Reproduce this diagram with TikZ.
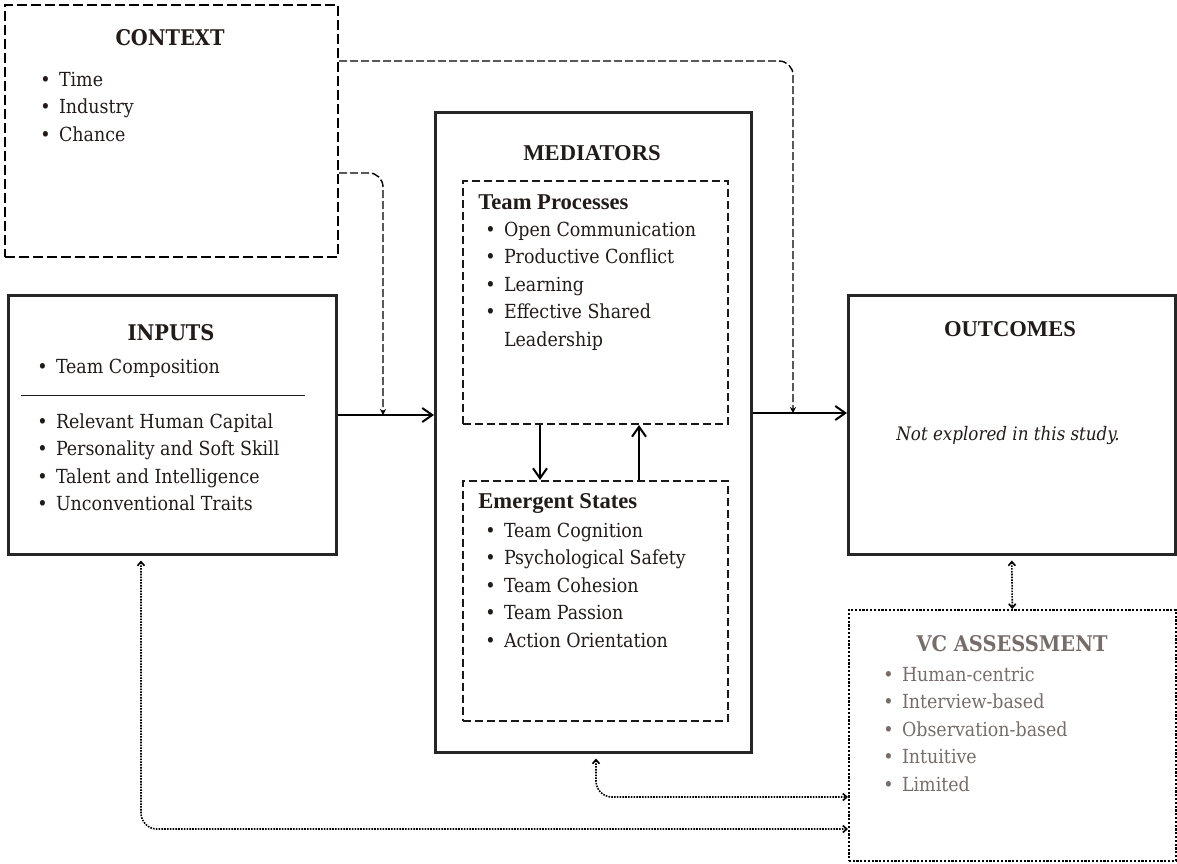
\documentclass[tikz,border=0pt]{standalone}
\usepackage{fontspec}
\setmainfont{DejaVu Serif Condensed}
\newfontfamily\headserif{Liberation Serif}
\usepackage{tikz}
\usetikzlibrary{arrows.meta, positioning}
\definecolor{inkdark}{HTML}{211B19}
\definecolor{vcgrey}{HTML}{756D6A}
\newcommand{\itm}[1]{\makebox[9.3pt][l]{\textbullet}#1}
\newcommand{\blist}[1]{\begin{tabular}[t]{@{}l@{}}#1\end{tabular}}
\tikzstyle{solidbox} = [rectangle, draw=black!85, line width=1.25pt, anchor=north west, inner sep=0pt]
\tikzstyle{ctxbox} = [rectangle, draw=black, line width=1pt, dash pattern=on 5pt off 2pt, anchor=north west, inner sep=0pt]
\tikzstyle{subbox} = [rectangle, draw=black!90, line width=1pt, dash pattern=on 4pt off 2pt, anchor=north west, inner sep=0pt]
\tikzstyle{dotbox} = [rectangle, draw=black, line width=0.8pt, dash pattern=on 1.1pt off 0.8pt, anchor=north west, inner sep=0pt]
\tikzstyle{heading} = [anchor=base, inner sep=0pt, text=inkdark, font=\fontsize{10.8}{13}\selectfont\bfseries]
\tikzstyle{theading} = [anchor=base, inner sep=0pt, text=inkdark, font=\headserif\fontsize{11.3}{13}\selectfont\bfseries]
\tikzstyle{items} = [anchor=base west, inner sep=0pt, text=inkdark, font=\fontsize{9.7}{13.75}\selectfont]
\tikzstyle{arrow} = [line width=1pt, -{Straight Barb[length=5pt,width=7pt]}]
\tikzstyle{ctxarrow} = [line width=0.7pt, dash pattern=on 4pt off 1.5pt, rounded corners=7pt, -{Stealth[length=3pt,width=3pt]}]
\tikzstyle{vcarrow} = [line width=0.8pt, dash pattern=on 0.8pt off 0.6pt, rounded corners=8pt, {Straight Barb[length=2pt,width=3.5pt]}-{Straight Barb[length=2pt,width=3.5pt]}]
\begin{document}
\begin{tikzpicture}[x=0.5pt, y=-0.5pt]
		\useasboundingbox (0,0) rectangle (1177,863);
		% boxes
		\node (context) [ctxbox, minimum width=166.5pt, minimum height=126pt] at (4,4) {};
		\node (inputs) [solidbox, minimum width=164pt, minimum height=129.5pt] at (7,294) {};
		\node (mediators) [solidbox, minimum width=158pt, minimum height=320pt] at (434,111) {};
		\node (processes) [subbox, minimum width=132.5pt, minimum height=121.5pt] at (462,180) {};
		\node (states) [subbox, minimum width=132.5pt, minimum height=120pt] at (462,480) {};
		\node (outcomes) [solidbox, minimum width=163.5pt, minimum height=129.5pt] at (847,294) {};
		\node (vcassess) [dotbox, minimum width=163.5pt, minimum height=125.5pt] at (848,609) {};
		% titles
		\node (contextTitle) [heading] at (170,45) {CONTEXT};
		\node (inputsTitle) [heading] at (171,340) {INPUTS};
		\node (mediatorsTitle) [theading] at (592,160) {MEDIATORS};
		\node (processesTitle) [theading, anchor=base west] at (478,209) {Team Processes};
		\node (statesTitle) [theading, anchor=base west] at (478,508) {Emergent States};
		\node (outcomesTitle) [theading] at (1010,336) {OUTCOMES};
		\node (vcTitle) [heading, text=vcgrey] at (1012,651) {VC ASSESSMENT};
		% lists
		\node (contextList) [items] at (40,86) {\blist{\itm{Time}\\ \itm{Industry}\\ \itm{Chance}}};
		\node (inputsTop) [items] at (37,373) {\blist{\itm{Team Composition}}};
		\draw [line width=0.5pt, draw=inkdark] (21,395) -- (305,395);
		\node (inputsList) [items] at (37,428) {\blist{\itm{Relevant Human Capital}\\ \itm{Personality and Soft Skill}\\ \itm{Talent and Intelligence}\\ \itm{Unconventional Traits}}};
		\node (processesList) [items] at (485,236) {\blist{\itm{Open Communication}\\ \itm{Productive Conflict}\\ \itm{Learning}\\ \itm{Effective Shared}\\ \hspace*{9.3pt}Leadership}};
		\node (statesList) [items] at (485,537) {\blist{\itm{Team Cognition}\\ \itm{Psychological Safety}\\ \itm{Team Cohesion}\\ \itm{Team Passion}\\ \itm{Action Orientation}}};
		\node (outcomesNote) [items, anchor=base, font=\fontsize{9.3}{12}\selectfont\itshape] at (1008,440) {Not explored in this study.};
		\node (vcList) [items, text=vcgrey] at (883,681) {\blist{\itm{Human-centric}\\ \itm{Interview-based}\\ \itm{Observation-based}\\ \itm{Intuitive}\\ \itm{Limited}}};
		% connectors
		\coordinate (inJoin) at (383,415);
		\coordinate (outJoin) at (793,413);
		\coordinate (ctxHigh) at (337,61);
		\coordinate (ctxLow) at (337,173);
		\coordinate (downX) at (540,0);
		\coordinate (upX) at (639,0);
		\coordinate (medLink) at (596,797);
		\coordinate (inLink) at (141,829);
		\draw [arrow] (inputs.east |- inJoin) -- (mediators.west |- inJoin);
		\draw [arrow] (mediators.east |- outJoin) -- (outcomes.west |- outJoin);
		\draw [ctxarrow] (context.east |- ctxHigh) -| (outJoin);
		\draw [ctxarrow] (context.east |- ctxLow) -| (inJoin);
		\draw [arrow] (processes.south -| downX) -- (states.north -| downX);
		\draw [arrow] (states.north -| upX) -- (processes.south -| upX);
		\draw [vcarrow, shorten <=2.5pt] (outcomes.south) -- (vcassess.north);
		\draw [vcarrow, shorten <=2.5pt] (mediators.south -| medLink) |- (vcassess.west |- medLink);
		\draw [vcarrow, shorten <=2.5pt] (inputs.south -| inLink) |- (vcassess.west |- inLink);
\end{tikzpicture}
\end{document}
